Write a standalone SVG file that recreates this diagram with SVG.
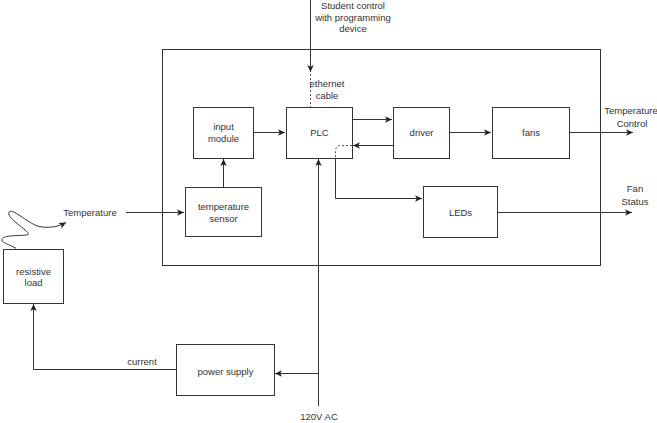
<svg xmlns="http://www.w3.org/2000/svg" width="657" height="423" viewBox="0 0 657 423">
<defs>
<marker id="arr" markerWidth="8" markerHeight="8" refX="7" refY="4" orient="auto" markerUnits="userSpaceOnUse">
<path d="M0,0.8 L7,4 L0,7.2 L1.8,4 Z" fill="#222"/>
</marker>
</defs>
<style>
rect.box{fill:#fff;stroke:#333;stroke-width:1}
.ln{fill:none;stroke:#333;stroke-width:1}
.dot{fill:none;stroke:#555;stroke-width:1;stroke-dasharray:2 2}
text{font-family:"Liberation Sans",Arial,sans-serif;font-size:9.5px;fill:#333;text-anchor:middle}
</style>
<rect width="657" height="423" fill="#fff"/>
<g id="container"><rect class="box" x="162.5" y="49.5" width="438" height="216"/></g>
<g id="input-module"><rect class="box" x="193.5" y="107.5" width="60" height="51"/><text x="223.5" y="129.5">input</text><text x="223.5" y="141.5">module</text></g>
<g id="plc"><rect class="box" x="286.5" y="107.5" width="66" height="51"/><text x="319.5" y="135.5">PLC</text></g>
<g id="temperature-sensor"><rect class="box" x="185.5" y="187.5" width="76" height="49"/><text x="223.5" y="209.5">temperature</text><text x="223.5" y="221.5">sensor</text></g>
<g id="driver"><rect class="box" x="393.5" y="107.5" width="56" height="51"/><text x="421.5" y="135.5">driver</text></g>
<g id="fans"><rect class="box" x="492.5" y="107.5" width="77" height="51"/><text x="531" y="135.5">fans</text></g>
<g id="leds"><rect class="box" x="423.5" y="186.5" width="74" height="51"/><text x="460.5" y="215.5">LEDs</text></g>
<g id="resistive-load"><rect class="box" x="3.5" y="249.5" width="60" height="54"/><text x="33.5" y="274.5">resistive</text><text x="33.5" y="285.5">load</text></g>
<g id="power-supply"><rect class="box" x="176.5" y="344.5" width="98" height="51"/><text x="225.5" y="374.5">power supply</text></g>
<g id="connectors">
<path class="ln" d="M310.5,0 L310.5,72" marker-end="url(#arr)"/>
<path class="dot" d="M310.5,74 L310.5,107"/>
<path class="ln" d="M253,132.5 L285,132.5" marker-end="url(#arr)"/>
<path class="ln" d="M223.5,187 L223.5,159" marker-end="url(#arr)"/>
<path class="ln" d="M126,212.5 L184,212.5" marker-end="url(#arr)"/>
<path class="ln" d="M16,248.3 C6.7,243.3 -1.7,241.7 3.3,237.7 C8.3,234.3 31.7,236.7 28.3,233.3 C25,228.3 5,216.7 9.3,211.7 C13.3,208.3 30,225 40,226.7 C50,228.3 58.3,226.7 66,222.5" marker-end="url(#arr)"/>
<path class="ln" d="M352,119.5 L392,119.5" marker-end="url(#arr)"/>
<path class="ln" d="M393,145.5 L353,145.5" marker-end="url(#arr)"/>
<path class="dot" d="M352,145.5 L341,145.5 Q335.5,145.5 335.5,151 L335.5,158"/>
<path class="ln" d="M335.5,158 L335.5,198.5 L422,198.5" marker-end="url(#arr)"/>
<path class="ln" d="M449,132.5 L491,132.5" marker-end="url(#arr)"/>
<path class="ln" d="M569,132.5 L633,132.5" marker-end="url(#arr)"/>
<path class="ln" d="M497,212.5 L632,212.5" marker-end="url(#arr)"/>
<path class="ln" d="M318.5,406 L318.5,159" marker-end="url(#arr)"/>
<path class="ln" d="M318.5,373.5 L275,373.5" marker-end="url(#arr)"/>
<path class="ln" d="M176,369.5 L33.5,369.5 L33.5,304" marker-end="url(#arr)"/>
</g>
<g id="labels">
<text x="353" y="8.5">Student control</text>
<text x="353" y="20.5">with programming</text>
<text x="353" y="32">device</text>
<text x="327" y="87">ethernet</text>
<text x="327" y="99">cable</text>
<text x="90" y="215.5">Temperature</text>
<text x="631" y="113.5">Temperature</text>
<text x="632" y="126.5">Control</text>
<text x="635" y="191.5">Fan</text>
<text x="635" y="204.5">Status</text>
<text x="142" y="364.5">current</text>
<text x="319" y="419.5">120V AC</text>
</g>
</svg>
